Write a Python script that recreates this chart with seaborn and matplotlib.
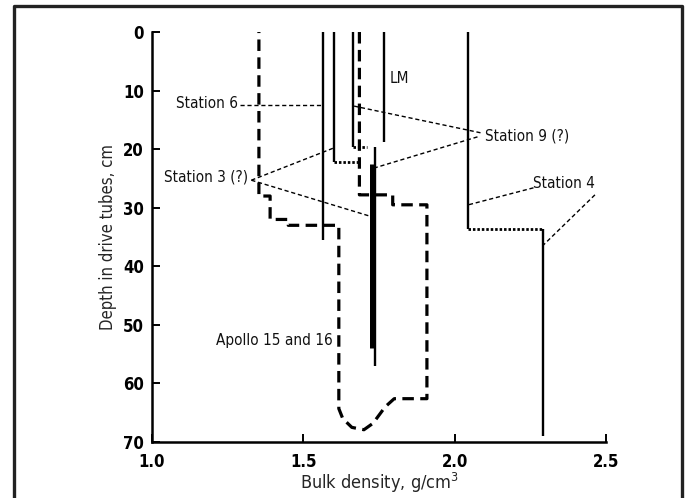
import matplotlib.pyplot as plt
import matplotlib.lines as mlines
import pandas as pd
import seaborn as sns

# --- core profiles (bulk density g/cm3, depth cm) ---
station6_x = [1.565, 1.565]
station6_depth = [0, 35.5]

core_a_x = [1.60, 1.60]
core_a_depth = [0, 22.2]
core_a_step_x = [1.60, 1.68]
core_a_step_depth = [22.2, 22.2]

core_b_x = [1.663, 1.663]
core_b_depth = [0, 19.7]
core_b_step_x = [1.663, 1.71]
core_b_step_depth = [19.7, 19.7]

core_c_x = [1.735, 1.735]
core_c_depth = [19.7, 57]
core_c_thick_x = [1.728, 1.728]
core_c_thick_depth = [22.5, 54]

lm_x = [1.766, 1.766]
lm_depth = [0, 18.8]

station4_upper_x = [2.043, 2.043]
station4_upper_depth = [0, 33.7]
station4_step_x = [2.043, 2.29]
station4_step_depth = [33.7, 33.7]
station4_lower_x = [2.29, 2.29]
station4_lower_depth = [33.7, 69]

# Apollo 15 and 16 envelope
apollo_x = [1.685, 1.685, 1.795, 1.795, 1.908, 1.908, 1.80, 1.77, 1.73, 1.70,
            1.66, 1.63, 1.617, 1.617, 1.45, 1.45, 1.39, 1.39, 1.353, 1.353]
apollo_depth = [0, 27.8, 27.8, 29.5, 29.5, 62.6, 62.6, 64.0, 66.8, 67.9,
                67.5, 66.0, 64.3, 33, 33, 32, 32, 28.0, 28.0, 0]

# leader lines: (x0, y0, x1, y1)
leaders = [
    (1.29, 12.5, 1.565, 12.5),
    (1.328, 25.3, 1.60, 19.8),
    (1.328, 25.3, 1.73, 31.6),
    (2.085, 17.2, 1.663, 12.6),
    (2.075, 17.9, 1.735, 23.2),
    (2.26, 26.6, 2.045, 29.5),
    (2.463, 27.8, 2.292, 36.4),
]

labels = ['Station 6', 'Station 3 (?)', 'Station 9 (?)', 'Station 4', 'LM', 'Apollo 15 and 16']
label_x = [1.283, 1.318, 2.10, 2.26, 1.786, 1.598]
label_depth = [12.2, 24.7, 17.7, 25.9, 8.0, 52.6]
label_ha = ['right', 'right', 'left', 'left', 'left', 'right']

x_ticks = [1.0, 1.5, 2.0, 2.5]
y_ticks = [0, 10, 20, 30, 40, 50, 60, 70]

sns.set_style('ticks')
plt.rcParams['font.family'] = ['DejaVu Sans']
plt.rcParams['font.stretch'] = 'condensed'

fig = plt.figure(figsize=(6.88, 4.98), dpi=100)
ax = fig.add_axes([0.221, 0.1124, 0.660, 0.8233])


def draw(xs, ys, **kw):
    df = pd.DataFrame({'density': xs, 'depth': ys})
    sns.lineplot(data=df, x='density', y='depth', sort=False, estimator=None,
                 color='black', ax=ax, legend=False, **kw)


solid_kw = dict(linewidth=1.7, solid_capstyle='butt')
dot_kw = dict(linewidth=2.0, linestyle=(0, (0.9, 0.7)))
draw(station6_x, station6_depth, **solid_kw)
draw(core_a_x, core_a_depth, **solid_kw)
draw(core_a_step_x, core_a_step_depth, **dot_kw)
draw(core_b_x, core_b_depth, **solid_kw)
draw(core_b_step_x, core_b_step_depth, **dot_kw)
draw(core_c_x, core_c_depth, **solid_kw)
draw(core_c_thick_x, core_c_thick_depth, linewidth=3.6, solid_capstyle='butt')
draw(lm_x, lm_depth, **solid_kw)
draw(station4_upper_x, station4_upper_depth, **solid_kw)
draw(station4_step_x, station4_step_depth, **dot_kw)
draw(station4_lower_x, station4_lower_depth, **solid_kw)
draw(apollo_x, apollo_depth, linewidth=2.3, linestyle=(0, (3.6, 2.0)))

for x0, y0, x1, y1 in leaders:
    ax.plot([x0, x1], [y0, y1], color='black', linewidth=1.0,
            linestyle=(0, (3, 2)), clip_on=False)

for txt, x, y, ha in zip(labels, label_x, label_depth, label_ha):
    ax.text(x, y, txt, ha=ha, va='center', fontsize=11, color='#111111')

ax.set_xlim(1.0, 2.5)
ax.set_ylim(70, 0)
ax.set_xticks(x_ticks)
ax.set_xticklabels([f'{v:.1f}' for v in x_ticks])
ax.set_yticks(y_ticks)
ax.tick_params(axis='both', direction='in', length=6, width=1.4, labelsize=12,
               colors='black')
ax.tick_params(axis='x', pad=8)
ax.tick_params(axis='y', pad=6)
for lab in ax.get_xticklabels() + ax.get_yticklabels():
    lab.set_fontweight('bold')
for side in ['top', 'right']:
    ax.spines[side].set_visible(False)
for side in ['left', 'bottom']:
    ax.spines[side].set_linewidth(1.8)
    ax.spines[side].set_color('black')

ax.set_xlabel('Bulk density, g/cm$^3$', fontsize=13, labelpad=0)
ax.set_ylabel('Depth in drive tubes, cm', fontsize=12, labelpad=4)

# frame around the figure (top, left, right)
fig.add_artist(mlines.Line2D([0.020, 0.020, 0.9915, 0.9915], [0.0, 0.988, 0.988, 0.0],
                             color='#222222', linewidth=2.4, transform=fig.transFigure))

fig.savefig('out.png', dpi=100, facecolor='white')
